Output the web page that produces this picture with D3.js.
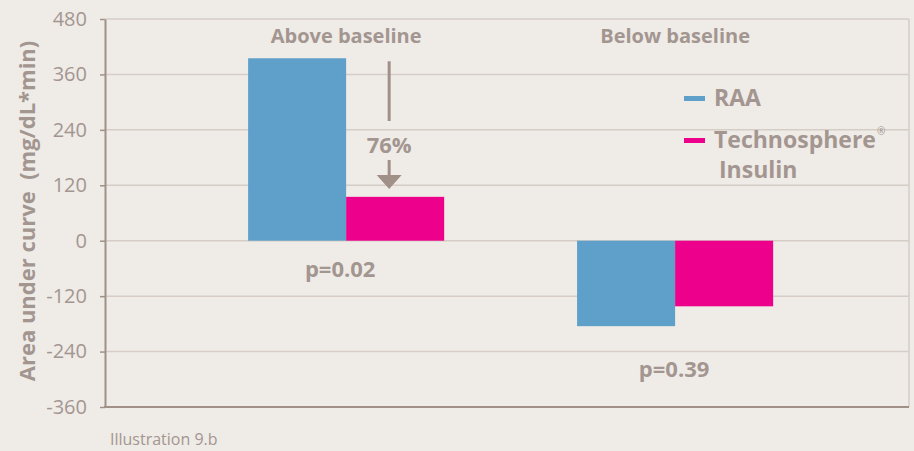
<!DOCTYPE html>
<html>
<head>
<meta charset="utf-8">
<script src="https://cdn.jsdelivr.net/npm/d3@7"></script>
<style>
  html, body { margin: 0; padding: 0; background: #efebe7; }
  svg { display: block; }
  text { font-family: "Open Sans", Lato, sans-serif; fill: #a39690; }
</style>
</head>
<body>
<svg id="chart" width="914" height="451"></svg>
<script>
// Glucose area under curve, above and below baseline
const groups = ["Above baseline", "Below baseline"];
const seriesNames = ["RAA", "Technosphere"];
const raaValues = [395, -185];
const tiValues = [95, -142];
const pValues = ["p=0.02", "p=0.39"];
const yTicks = [480, 360, 240, 120, 0, -120, -240, -360];
const reductionLabel = "76%";

const colors = { RAA: "#5fa0cb", Technosphere: "#ec008c" };
const textColor = "#a39690";
const axisColor = "#a09088";
const gridColor = "#d6cdc7";

const svg = d3.select("#chart");
const W = 914, H = 451;
const m = { left: 105, right: 5, top: 19, bottom: 44 };

svg.append("rect").attr("width", W).attr("height", H).attr("fill", "#efebe7");

const y = d3.scaleLinear().domain([-360, 480]).range([H - m.bottom, m.top]);
const x0 = d3.scaleBand().domain(groups)
  .range([m.left, W - m.right])
  .paddingInner(0.404).paddingOuter(0.424).align(0.513);
const x1 = d3.scaleBand().domain(seriesNames).range([0, x0.bandwidth()]);

// gridlines
svg.append("g")
  .selectAll("line").data(yTicks.filter(d => d !== -360)).join("line")
  .attr("x1", m.left).attr("x2", W - m.right)
  .attr("y1", d => y(d)).attr("y2", d => y(d))
  .attr("stroke", gridColor).attr("stroke-width", 1.5);

// right border
svg.append("line")
  .attr("x1", W - m.right).attr("x2", W - m.right)
  .attr("y1", y(480)).attr("y2", y(-360))
  .attr("stroke", gridColor).attr("stroke-width", 1.5);

// y axis (plain hyphen for negatives)
const yAxis = d3.axisLeft(y).tickValues(yTicks).tickSize(5).tickPadding(13)
  .tickSizeOuter(0).tickFormat(d => String(d));
const gy = svg.append("g").attr("transform", `translate(${m.left},0)`).call(yAxis);
gy.select(".domain").attr("stroke", axisColor).attr("stroke-width", 2);
gy.selectAll(".tick line").attr("stroke", axisColor).attr("stroke-width", 1.5);
gy.selectAll(".tick text")
  .attr("fill", textColor).attr("font-size", 20)
  .style("font-family", "'Open Sans', sans-serif");

// bottom axis line
svg.append("line")
  .attr("x1", m.left - 1).attr("x2", W - m.right)
  .attr("y1", y(-360)).attr("y2", y(-360))
  .attr("stroke", axisColor).attr("stroke-width", 2);

// bars
const rows = groups.map((g, i) => ({ group: g, values: [
  { key: "RAA", value: raaValues[i] },
  { key: "Technosphere", value: tiValues[i] }
]}));

const gBars = svg.append("g").selectAll("g").data(rows).join("g")
  .attr("transform", d => `translate(${x0(d.group)},0)`);
gBars.selectAll("rect").data(d => d.values).join("rect")
  .attr("x", d => x1(d.key))
  .attr("width", x1.bandwidth())
  .attr("y", d => y(Math.max(0, d.value)))
  .attr("height", d => Math.abs(y(d.value) - y(0)))
  .attr("fill", d => colors[d.key]);

// group titles
svg.append("g").selectAll("text").data(groups).join("text")
  .attr("x", d => x0(d) + x0.bandwidth() / 2)
  .attr("y", 43)
  .attr("text-anchor", "middle")
  .attr("font-size", 20).attr("font-weight", 700)
  .text(d => d);

// p-values
svg.append("g").selectAll("text").data(rows).join("text")
  .attr("x", (d, i) => x0(d.group) + x0.bandwidth() / 2 + (i === 0 ? -6 : -1))
  .attr("y", (d, i) => i === 0 ? y(0) + 36 : y(d3.min(d.values, v => v.value)) + 51)
  .attr("text-anchor", "middle")
  .attr("font-size", 22).attr("font-weight", 700)
  .text((d, i) => pValues[i]);

// reduction arrow
const ax = x0(groups[0]) + x1("Technosphere") + x1.bandwidth() / 2 - 6;
const arrow = svg.append("g");
arrow.append("line")
  .attr("x1", ax).attr("x2", ax)
  .attr("y1", y(raaValues[0]) + 3).attr("y2", 121)
  .attr("stroke", axisColor).attr("stroke-width", 3);
arrow.append("text")
  .attr("x", ax).attr("y", 153)
  .attr("text-anchor", "middle")
  .attr("font-size", 22).attr("font-weight", 700)
  .text(reductionLabel);
arrow.append("line")
  .attr("x1", ax).attr("x2", ax)
  .attr("y1", 160).attr("y2", 176)
  .attr("stroke", axisColor).attr("stroke-width", 3);
arrow.append("path")
  .attr("d", `M${ax - 12.5},175 L${ax + 12.5},175 L${ax},189 Z`)
  .attr("fill", axisColor);

// legend
const legend = svg.append("g");
legend.append("rect").attr("x", 684).attr("y", 96).attr("width", 21).attr("height", 5)
  .attr("fill", colors.RAA);
legend.append("text").attr("x", 714).attr("y", 106)
  .attr("font-size", 23).attr("font-weight", 700).text("RAA");
legend.append("rect").attr("x", 684).attr("y", 138).attr("width", 21).attr("height", 5)
  .attr("fill", colors.Technosphere);
const tiLabel = legend.append("text").attr("x", 714).attr("y", 148)
  .attr("font-size", 23).attr("font-weight", 700);
tiLabel.append("tspan").text("Technosphere");
tiLabel.append("tspan").attr("font-size", 10).attr("font-weight", 400)
  .attr("dx", 1).attr("dy", -13).text("®");
legend.append("text").attr("x", 719).attr("y", 178)
  .attr("font-size", 23).attr("font-weight", 700).text("Insulin");

// y axis title
svg.append("text")
  .attr("transform", `translate(35,${(y(480) + y(-360)) / 2 - 2}) rotate(-90)`)
  .attr("text-anchor", "middle")
  .attr("font-size", 22).attr("font-weight", 700)
  .style("white-space", "pre")
  .text("Area under curve  (mg/dL*min)");

// footnote
svg.append("text")
  .attr("x", 110).attr("y", 445)
  .attr("font-size", 16)
  .text("Illustration 9.b");
</script>
</body>
</html>
